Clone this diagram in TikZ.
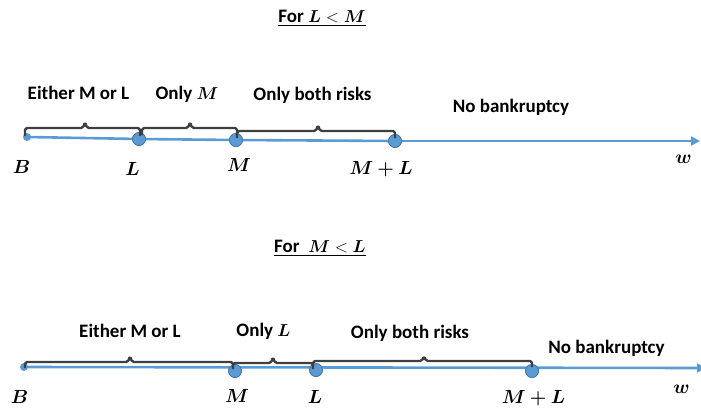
\documentclass[tikz,border=0pt]{standalone}
\usepackage{amsmath}
\usepackage{bm}
\usepackage[no-math]{fontspec}
\setmainfont{Carlito}
\usetikzlibrary{arrows.meta}
\definecolor{axisblue}{HTML}{5B9BD5}
\definecolor{dotedge}{HTML}{41719C}
\definecolor{bracegray}{HTML}{3F3F3F}
\newcommand{\biglab}[1]{\scalebox{1.1}{$\bm{#1}$}}
% bracket: x1, x2, tip x, line y, base y, tip y (y measured downward)
\newcommand{\bracket}[6]{\draw[bracketline] (#1,-#5) -- (#1,-#4) -- (#3-2,-#4) -- (#3,-#6) -- (#3+2,-#4) -- (#2,-#4) -- (#2,-#5);}
\begin{document}
\begin{tikzpicture}[x=1pt,y=1pt,
  axis/.style={draw=axisblue,line width=2.6pt},
  bigdot/.style={circle,fill=axisblue,draw=dotedge,line width=0.6pt,minimum size=13pt,inner sep=0pt},
  smalldot/.style={circle,fill=axisblue,minimum size=8pt,inner sep=0pt},
  bracketline/.style={draw=bracegray,line width=2.4pt,rounded corners=1.8pt,line join=round},
  txt/.style={font=\fontsize{19}{21}\selectfont\bfseries,anchor=base,inner sep=0pt},
  mlab/.style={font=\fontsize{17.28}{20}\selectfont,anchor=base,inner sep=0pt}]
\useasboundingbox (0,-408) rectangle (701,0);
% ---------- top ----------
\node[txt] (t1) at (322,-22) {\underline{For $\bm{L}<\bm{M}$}};
\node[smalldot] (tB) at (27,-137) {};
\node[bigdot] (tL) at (139,-139) {};
\node[bigdot] (tM) at (236,-140) {};
\node[bigdot] (tML) at (395,-141) {};
\coordinate (tEnd) at (700,-141);
\draw[axis] (tB.center) -- (tL.center) -- (tM.center) -- (tML.center);
\draw[axis,-{Triangle[length=9pt,width=9pt]}] (tML.center) -- (tEnd);
\node[bigdot] at (tL) {};
\node[bigdot] at (tM) {};
\node[bigdot] at (tML) {};
\bracket{25}{140}{85}{128}{136}{122}
\bracket{142}{237}{190}{128}{135}{122}
\bracket{237}{395}{318}{131}{138}{125}
\node[txt] (te) at (78.5,-99) {Either M or L};
\node[txt] (to) at (187,-99) {Only $\bm{M}$};
\node[txt] (tb) at (312.5,-100) {Only both risks};
\node[txt] (tn) at (511,-112) {No bankruptcy};
\node[mlab] (lB) at (21.5,-173) {\biglab{B}};
\node[mlab] (lL) at (132.5,-175) {\biglab{L}};
\node[mlab] (lM) at (239,-171) {\biglab{M}};
\node[mlab] (lML) at (381,-174) {\biglab{M+L}};
\node[mlab] (lw) at (683.5,-163) {\biglab{w}};
% ---------- bottom ----------
\node[txt] (t2) at (320,-252) {\underline{For\ \ $\bm{M}<\bm{L}$}};
\node[smalldot] (bB) at (24,-367) {};
\node[bigdot] (bM) at (235,-371) {};
\node[bigdot] (bL) at (316,-370) {};
\node[bigdot] (bML) at (532,-371) {};
\coordinate (bEnd) at (706,-368);
\draw[axis,-{Triangle[length=9pt,width=9pt]}] (bB.center) -- (bEnd);
\node[bigdot] at (bM) {};
\node[bigdot] at (bL) {};
\node[bigdot] at (bML) {};
\bracket{25}{233}{130}{362}{368}{356}
\bracket{233}{313}{273}{363}{369}{357}
\bracket{313}{532}{424}{361}{367}{356}
\node[txt] (be) at (130,-337) {Either M or L};
\node[txt] (bo) at (263.5,-336) {Only $\bm{L}$};
\node[txt] (bb) at (410,-338) {Only both risks};
\node[txt] (bn) at (606.5,-353) {No bankruptcy};
\node[mlab] (mB) at (19.5,-403) {\biglab{B}};
\node[mlab] (mM) at (237,-402) {\biglab{M}};
\node[mlab] (mL) at (315,-403) {\biglab{L}};
\node[mlab] (mML) at (533.5,-403) {\biglab{M+L}};
\node[mlab] (mw) at (681.5,-393) {\biglab{w}};
\end{tikzpicture}
\end{document}
